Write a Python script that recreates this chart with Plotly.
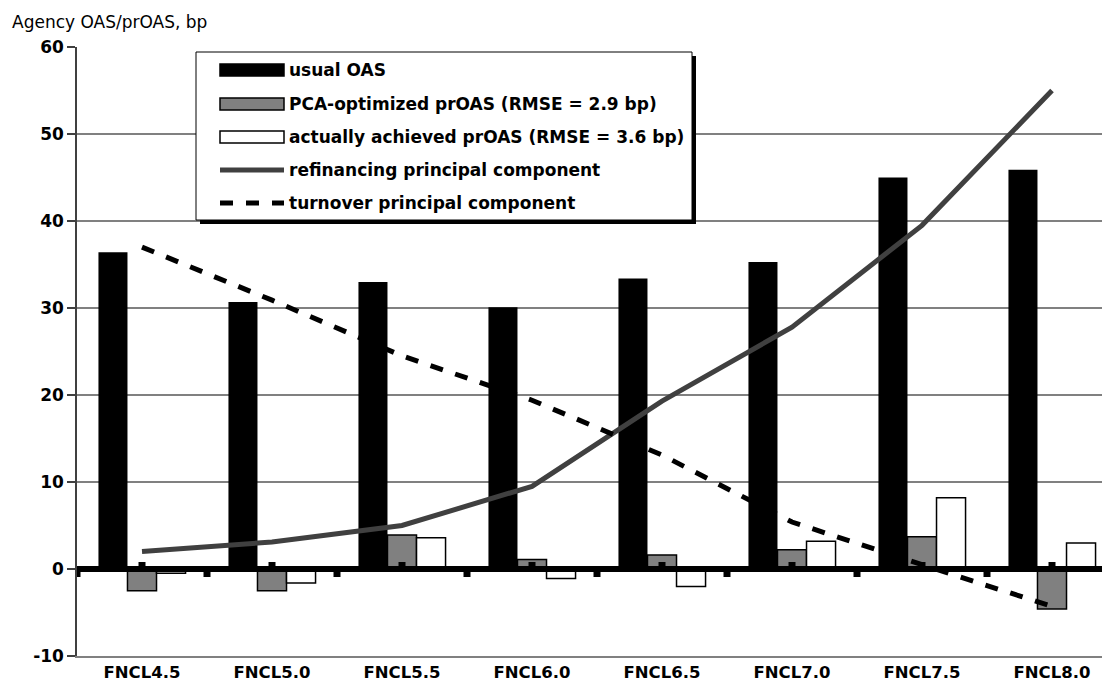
import plotly.graph_objects as go

# ---------------- data ----------------
categories = ["FNCL4.5", "FNCL5.0", "FNCL5.5", "FNCL6.0", "FNCL6.5", "FNCL7.0", "FNCL7.5", "FNCL8.0"]
usual_oas = [36.4, 30.7, 33.0, 30.1, 33.4, 35.3, 45.0, 45.9]
pca_proas = [-2.5, -2.5, 3.9, 1.1, 1.6, 2.2, 3.7, -4.6]
achieved_proas = [-0.5, -1.6, 3.6, -1.1, -2.0, 3.2, 8.2, 3.0]
refinancing_pc = [2.0, 3.1, 5.0, 9.5, 19.3, 27.8, 39.5, 55.0]
turnover_pc = [37.0, 30.9, 24.5, 19.4, 13.1, 5.4, 0.5, -4.3]
y_ticks = [-10, 0, 10, 20, 30, 40, 50, 60]
y_tick_labels = ["-10", "0", "10", "20", "30", "40", "50", "60"]
series_names = [
    "usual OAS",
    "PCA-optimized prOAS (RMSE = 2.9 bp)",
    "actually achieved prOAS (RMSE = 3.6 bp)",
    "refinancing principal component",
    "turnover principal component",
]
axis_title = "Agency OAS/prOAS, bp"

# ---------------- geometry / style ----------------
OFF = 8                      # page body margin
WIN_W, WIN_H = 1110, 690
W, H = WIN_W - OFF, WIN_H - OFF
PLOT_L, PLOT_T, PLOT_B = 77, 47, 656      # in window pixels
ML, MT, MR = PLOT_L - OFF, PLOT_T - OFF, 0
MB = H - (PLOT_B - OFF)
PW, PH = W - ML - MR, H - MT - MB
CAT_PX = 130.0
X_RANGE = [-0.5, PW / CAT_PX - 0.5]
Y_RANGE = [-10, 60]
FONT = "DejaVu Sans"
BOLD = dict(family=FONT, size=17, color="black", weight="bold")
DASH = "13px,13px"
GRID = "#808080"


def px_x(px):
    return (px - PLOT_L) / PW


def px_y(py):
    return (PLOT_B - py) / PH


fig = go.Figure()
fig.add_trace(go.Bar(x=categories, y=usual_oas, name=series_names[0],
                     marker=dict(color="black", line=dict(width=0))))
fig.add_trace(go.Bar(x=categories, y=pca_proas, name=series_names[1],
                     marker=dict(color="#808080", line=dict(color="black", width=1.5))))
fig.add_trace(go.Bar(x=categories, y=achieved_proas, name=series_names[2],
                     marker=dict(color="white", line=dict(color="black", width=1.5))))
fig.add_trace(go.Scatter(x=categories, y=refinancing_pc, name=series_names[3], mode="lines",
                         line=dict(color="#404040", width=5)))
fig.add_trace(go.Scatter(x=categories, y=turnover_pc, name=series_names[4], mode="lines",
                         line=dict(color="black", width=5, dash=DASH)))

n = len(categories)

fig.update_layout(
    width=W, height=H, autosize=False,
    margin=dict(l=ML, r=MR, t=MT, b=MB, pad=0),
    paper_bgcolor="white", plot_bgcolor="white",
    showlegend=False,
    barmode="group", bargap=0.33, bargroupgap=0,
    xaxis=dict(type="category", range=X_RANGE, showgrid=False, showline=True,
               linecolor=GRID, linewidth=2, zeroline=False, ticks="",
               tickfont=dict(family=FONT, size=16.5, color="black", weight="bold"),
               anchor="y"),
    yaxis=dict(range=Y_RANGE, tickmode="array", tickvals=y_ticks, ticktext=y_tick_labels,
               showgrid=True, gridcolor=GRID, gridwidth=1.5,
               zeroline=False, showline=True, linecolor="#404040", linewidth=1.5,
               ticks="outside", ticklen=8, tickwidth=1.5, tickcolor="#404040",
               tickfont=BOLD),
)

shapes = []
# thick zero axis with tick marks (derived from the category count)
shapes.append(dict(type="line", xref="x", yref="y", layer="above",
                   x0=X_RANGE[0], x1=X_RANGE[1], y0=0, y1=0,
                   line=dict(color="black", width=6)))
for i in range(n + 1):
    shapes.append(dict(type="rect", layer="above",
                       xref="x", xsizemode="pixel", xanchor=i - 0.5, x0=-3.5, x1=3.5,
                       yref="y", ysizemode="pixel", yanchor=0, y0=-2, y1=-8,
                       fillcolor="black", line=dict(width=0)))
for i in range(n):
    shapes.append(dict(type="rect", layer="above",
                       xref="x", xsizemode="pixel", xanchor=i, x0=-3.5, x1=3.5,
                       yref="y", ysizemode="pixel", yanchor=0, y0=2, y1=7,
                       fillcolor="black", line=dict(width=0)))

# ---------------- manual legend ----------------
LX0, LX1, LY0, LY1 = 196, 692, 52, 220
shapes.append(dict(type="rect", xref="paper", yref="paper", layer="above",
                   x0=px_x(LX0 + 4), x1=px_x(LX1 + 4), y0=px_y(LY0 + 4), y1=px_y(LY1 + 4),
                   fillcolor="black", line=dict(width=0)))
shapes.append(dict(type="rect", xref="paper", yref="paper", layer="above",
                   x0=px_x(LX0), x1=px_x(LX1), y0=px_y(LY0), y1=px_y(LY1),
                   fillcolor="white", line=dict(color="black", width=1)))
rows = [70, 104, 137, 170, 203]
SX0, SX1 = 220, 284
bar_styles = [("black", "black"), ("#808080", "black"), ("white", "black")]
for i, (fc, lc) in enumerate(bar_styles):
    shapes.append(dict(type="rect", xref="paper", yref="paper", layer="above",
                       x0=px_x(SX0), x1=px_x(SX1), y0=px_y(rows[i] + 6), y1=px_y(rows[i] - 6),
                       fillcolor=fc, line=dict(color=lc, width=1.5)))
shapes.append(dict(type="line", xref="paper", yref="paper", layer="above",
                   x0=px_x(SX0), x1=px_x(SX1), y0=px_y(rows[3]), y1=px_y(rows[3]),
                   line=dict(color="#404040", width=5)))
shapes.append(dict(type="line", xref="paper", yref="paper", layer="above",
                   x0=px_x(SX0), x1=px_x(SX1), y0=px_y(rows[4]), y1=px_y(rows[4]),
                   line=dict(color="black", width=5, dash=DASH)))

annotations = []
for i, name in enumerate(series_names):
    annotations.append(dict(xref="paper", yref="paper", x=px_x(SX1 + 3), y=px_y(rows[i]),
                            text=name, showarrow=False, xanchor="left", yanchor="middle",
                            font=BOLD))
annotations.append(dict(xref="paper", yref="paper", x=px_x(10), y=px_y(22),
                        text=axis_title, showarrow=False, xanchor="left", yanchor="middle",
                        font=dict(family=FONT, size=17, color="black")))

fig.update_layout(shapes=shapes, annotations=annotations)
fig.write_html("out.html")
